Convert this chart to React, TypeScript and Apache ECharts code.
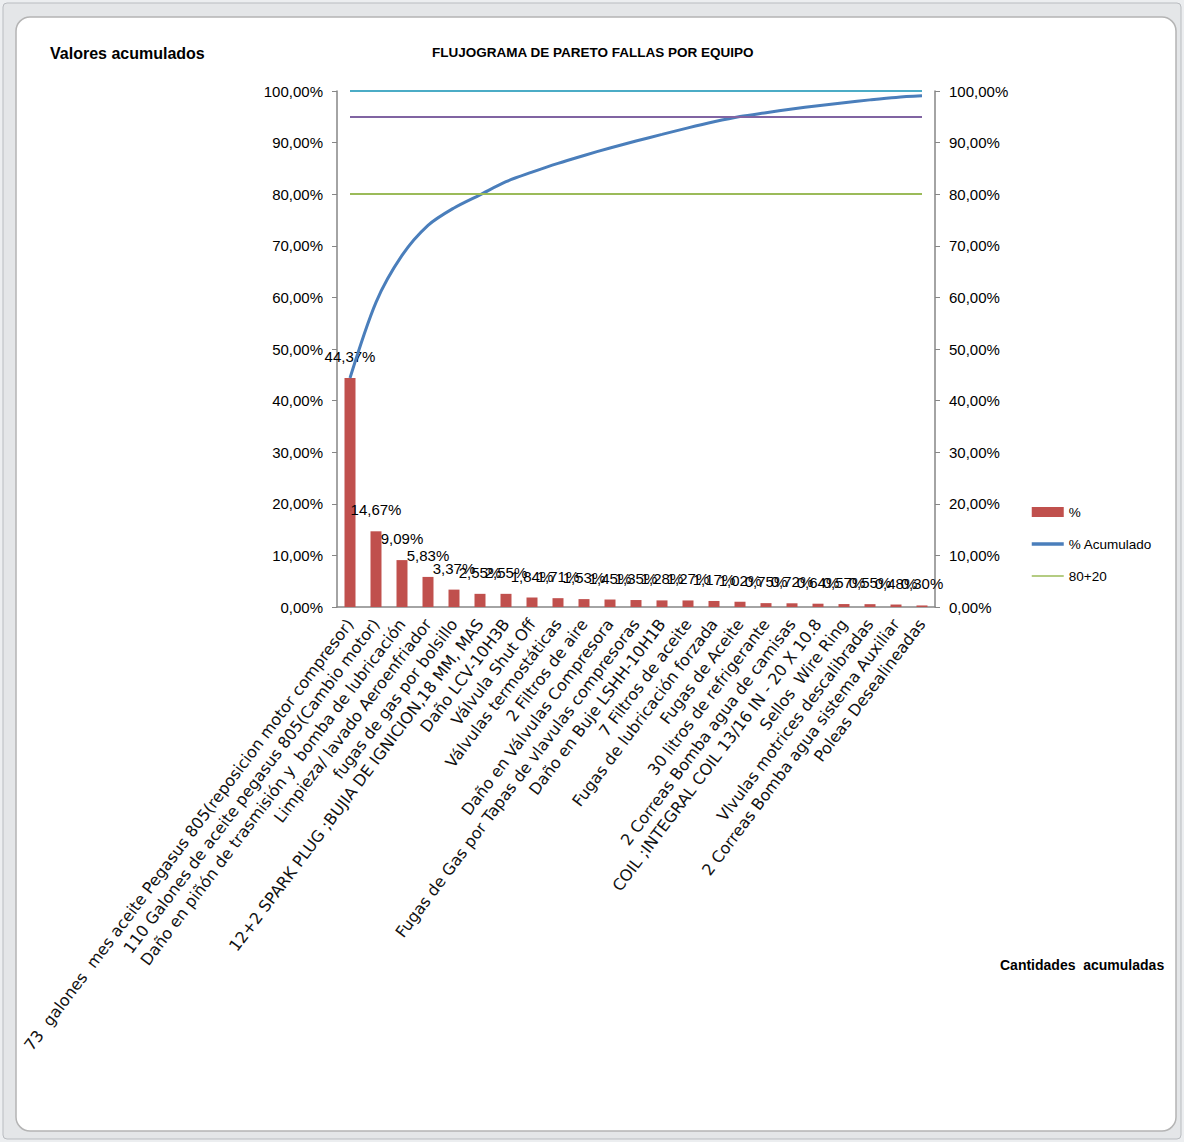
import React, { useEffect, useRef } from "react";
import * as echarts from "echarts";

// Fallas por equipo, ordenadas de mayor a menor
const categories: string[] = [
  "73  galones  mes aceite Pegasus 805(reposicion motor compresor)",
  "110 Galones de aceite pegasus 805(Cambio motor)",
  "Daño en piñón de trasmisión y  bomba de lubricación",
  "Limpieza/ lavado Aeroenfriador",
  "fugas de gas por bolsillo",
  "12+2 SPARK PLUG ;BUJIA DE IGNICION,18 MM, MAS",
  "Daño LCV-10H3B",
  "Válvula Shut Off",
  "Válvulas termostáticas",
  "2 Filtros de aire",
  "Daño en Válvulas Compresora",
  "Fugas de Gas por Tapas de vlavulas compresoras",
  "Daño en Buje LSHH-10H1B",
  "7 Filtros de aceite",
  "Fugas de lubricación forzada",
  "Fugas de Aceite",
  "30 litros de refrigerante",
  "2 Correas Bomba agua de camisas",
  "COIL ;INTEGRAL COIL 13/16 IN - 20 X 10.8",
  "Sellos  Wire Ring",
  "Vlvulas motrices descalibradas",
  "2 Correas Bomba agua sistema Auxiliar",
  "Poleas Desealineadas",
];

// Porcentaje de cada falla
const percentValues: number[] = [
  44.37, 14.67, 9.09, 5.83, 3.37, 2.55, 2.55, 1.84, 1.71, 1.53, 1.45, 1.35,
  1.28, 1.27, 1.17, 1.02, 0.75, 0.72, 0.64, 0.57, 0.55, 0.48, 0.3,
];

// Porcentaje acumulado
const cumulativeValues: number[] = [
  44.37, 59.04, 68.13, 73.96, 77.33, 79.88, 82.43, 84.27, 85.98, 87.51, 88.96,
  90.31, 91.59, 92.86, 94.03, 95.05, 95.8, 96.52, 97.16, 97.73, 98.28, 98.76,
  99.06,
];

// Líneas de referencia
const paretoLine = 80;
const upperLine = 95;
const fullLine = 100;

const axisTicks = { min: 0, max: 100, interval: 10 };

const fmtPct = (v: number) => v.toFixed(2).replace(".", ",") + "%";

const FONT = "'Liberation Sans', Arial, sans-serif";

export default function App() {
  const ref = useRef<HTMLDivElement>(null);

  useEffect(() => {
    if (!ref.current) return;
    const chart = echarts.init(ref.current, undefined, { renderer: "svg" });

    const valueAxis = (position: "left" | "right") => ({
      type: "value" as const,
      position,
      min: axisTicks.min,
      max: axisTicks.max,
      interval: axisTicks.interval,
      axisLine: { show: true, lineStyle: { color: "#868686", width: 1.5 } },
      axisTick: { show: true, length: 5, lineStyle: { color: "#868686" } },
      splitLine: { show: false },
      axisLabel: {
        formatter: (v: number) => fmtPct(v),
        fontFamily: FONT,
        fontSize: 15,
        color: "#000",
        margin: 14,
      },
    });

    const lineCoord = (y: number, color: string) => [
      { coord: [categories[0], y], lineStyle: { color, width: 2, type: "solid" } },
      { coord: [categories[categories.length - 1], y] },
    ];

    chart.setOption({
      animation: false,
      backgroundColor: "transparent",
      textStyle: { fontFamily: FONT },
      graphic: [
        {
          type: "rect",
          z: -20,
          shape: { x: 0, y: 0, width: 1184, height: 1142 },
          style: { fill: "#eceef0" },
          silent: true,
        },
        {
          type: "rect",
          z: -19,
          shape: { x: 3, y: 3, width: 1178, height: 1136, r: 4 },
          style: { fill: "#e4e6e8", stroke: "#b9bcc0", lineWidth: 1 },
          silent: true,
        },
        {
          type: "rect",
          z: -18,
          shape: { x: 16, y: 17, width: 1160, height: 1114, r: 14 },
          style: { fill: "#ffffff", stroke: "#b4b4b4", lineWidth: 1.5 },
          silent: true,
        },
        {
          type: "text",
          left: 50,
          top: 45,
          style: {
            text: "Valores acumulados",
            font: `bold 16px ${FONT}`,
            fill: "#000",
          },
        },
        {
          type: "text",
          left: 432,
          top: 45,
          style: {
            text: "FLUJOGRAMA DE PARETO FALLAS POR EQUIPO",
            font: `bold 13.5px ${FONT}`,
            fill: "#000",
          },
        },
        {
          type: "text",
          left: 1000,
          top: 958,
          style: {
            text: "Cantidades  acumuladas",
            font: `bold 14px ${FONT}`,
            fill: "#000",
          },
        },
      ],
      legend: {
        orient: "vertical",
        left: 1030,
        top: 505,
        padding: 0,
        itemWidth: 32,
        itemHeight: 10,
        itemGap: 18,
        textStyle: { fontFamily: FONT, fontSize: 13.5, color: "#000" },
        data: [
          { name: "%", icon: "rect" },
          {
            name: "% Acumulado",
            itemStyle: { opacity: 0 },
            lineStyle: { width: 3.5 },
          },
          { name: "80+20", itemStyle: { opacity: 0 }, lineStyle: { width: 1.5 } },
        ],
      },
      grid: { left: 337, right: 249, top: 91, bottom: 535, containLabel: false },
      xAxis: {
        type: "category",
        data: categories,
        axisLine: { show: true, lineStyle: { color: "#868686", width: 1.5 } },
        axisTick: { show: false },
        axisLabel: {
          interval: 0,
          rotate: 53,
          fontFamily: "'DejaVu Sans', sans-serif",
          fontSize: 16,
          color: "#111",
          margin: 14,
        },
      },
      yAxis: [valueAxis("left"), valueAxis("right")],
      series: [
        {
          name: "%",
          type: "bar",
          data: percentValues,
          barWidth: 11,
          itemStyle: { color: "#c0504d" },
          label: {
            show: true,
            position: "top",
            distance: 14,
            formatter: (p: any) => fmtPct(p.value),
            fontFamily: FONT,
            fontSize: 15,
            color: "#000",
          },
          z: 3,
        },
        {
          name: "% Acumulado",
          type: "line",
          yAxisIndex: 1,
          data: cumulativeValues,
          smooth: 0.3,
          symbol: "none",
          lineStyle: { color: "#4a7ebb", width: 3 },
          itemStyle: { color: "#4a7ebb" },
          z: 4,
        },
        {
          name: "80+20",
          type: "line",
          data: [],
          symbol: "none",
          lineStyle: { color: "#9bbb59", width: 1.5 },
          itemStyle: { color: "#9bbb59" },
          markLine: {
            silent: true,
            symbol: "none",
            label: { show: false },
            data: [
              lineCoord(paretoLine, "#9bbb59"),
              lineCoord(upperLine, "#8064a2"),
              lineCoord(fullLine, "#4bacc6"),
            ],
          },
          z: 2,
        },
      ],
    });

    return () => chart.dispose();
  }, []);

  return (
    <div
      ref={ref}
      style={{ position: "absolute", left: 0, top: 0, width: 1184, height: 1142 }}
    />
  );
}
